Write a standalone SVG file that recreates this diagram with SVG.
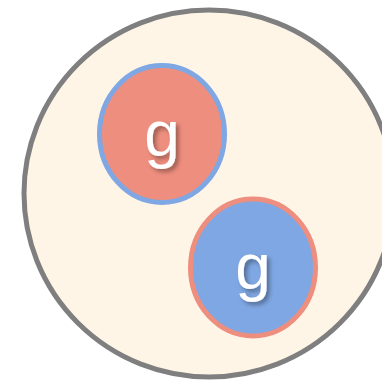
<svg xmlns="http://www.w3.org/2000/svg" width="382" height="381" viewBox="0 0 382 381">
<defs>
<filter id="sh" x="-50%" y="-50%" width="200%" height="200%">
<feDropShadow dx="3" dy="3" stdDeviation="2" flood-color="#000" flood-opacity="0.35"/>
</filter>
<style>
.lbl{font-family:"Liberation Sans",Arial,sans-serif;font-size:64px;fill:#fff;text-anchor:middle;filter:url(#sh)}
</style>
</defs>
<rect width="382" height="381" fill="#fff"/>
<g id="outer">
<ellipse cx="209" cy="193.5" rx="185" ry="183.5" fill="#FFF5E7" stroke="#7F7F7F" stroke-width="5"/>
</g>
<g id="node1">
<ellipse cx="162" cy="134" rx="62.5" ry="68.5" fill="#EE8E7E" stroke="#7FA7E3" stroke-width="5"/>
<text class="lbl" x="162" y="155.5">g</text>
</g>
<g id="node2">
<ellipse cx="253" cy="267.5" rx="62.5" ry="68.5" fill="#7FA7E3" stroke="#EE8E7E" stroke-width="5"/>
<text class="lbl" x="253" y="289">g</text>
</g>
<g id="connectors"/>
</svg>
